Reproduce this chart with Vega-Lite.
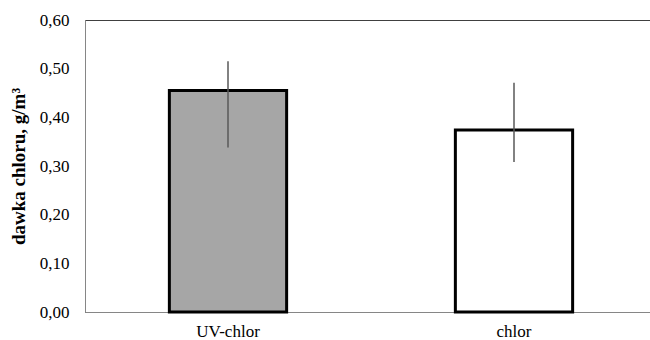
{
  "$schema": "https://vega.github.io/schema/vega-lite/v6.json",
  "autosize": "none",
  "padding": {"left": 85, "top": 20, "right": 0, "bottom": 28},
  "width": 572,
  "height": 292,
  "background": "white",
  "config": {
    "view": {"stroke": "#404040", "strokeWidth": 1},
    "font": "Liberation Serif"
  },
  "data": {
    "values": [
      {"grupa": "UV-chlor", "dawka": 0.455, "low": 0.338, "high": 0.515},
      {"grupa": "chlor", "dawka": 0.374, "low": 0.308, "high": 0.471}
    ]
  },
  "layer": [
    {
      "mark": {"type": "bar", "stroke": "black", "strokeWidth": 3},
      "encoding": {
        "x": {
          "field": "grupa", "type": "nominal", "sort": null,
          "scale": {"paddingInner": 0.59, "paddingOuter": 0.295},
          "axis": {
            "title": null, "labelAngle": 0, "ticks": false,
            "labelFont": "Liberation Serif", "labelFontSize": 17, "labelColor": "black",
            "labelPadding": 11, "domainColor": "#868686", "domainWidth": 1
          }
        },
        "y": {
          "field": "dawka", "type": "quantitative",
          "scale": {"domain": [0, 0.6], "nice": false},
          "axis": {
            "values": [0, 0.1, 0.2, 0.3, 0.4, 0.5, 0.6],
            "format": ".2f",
            "labelExpr": "replace(datum.label, '.', ',')",
            "grid": false, "ticks": false,
            "labelFont": "Liberation Serif", "labelFontSize": 17, "labelColor": "black",
            "labelPadding": 16, "domainColor": "#868686", "domainWidth": 1,
            "title": "dawka chloru, g/m³",
            "titleFont": "Liberation Serif", "titleFontSize": 19, "titleFontWeight": "bold",
            "titleColor": "black", "titlePadding": 11
          }
        },
        "fill": {
          "field": "grupa", "type": "nominal",
          "scale": {"domain": ["UV-chlor", "chlor"], "range": ["#a6a6a6", "#ffffff"]},
          "legend": null
        }
      }
    },
    {
      "mark": {"type": "rule", "color": "#595959", "strokeWidth": 1.5},
      "encoding": {
        "x": {"field": "grupa", "type": "nominal", "sort": null},
        "y": {"field": "low", "type": "quantitative"},
        "y2": {"field": "high"}
      }
    }
  ]
}
